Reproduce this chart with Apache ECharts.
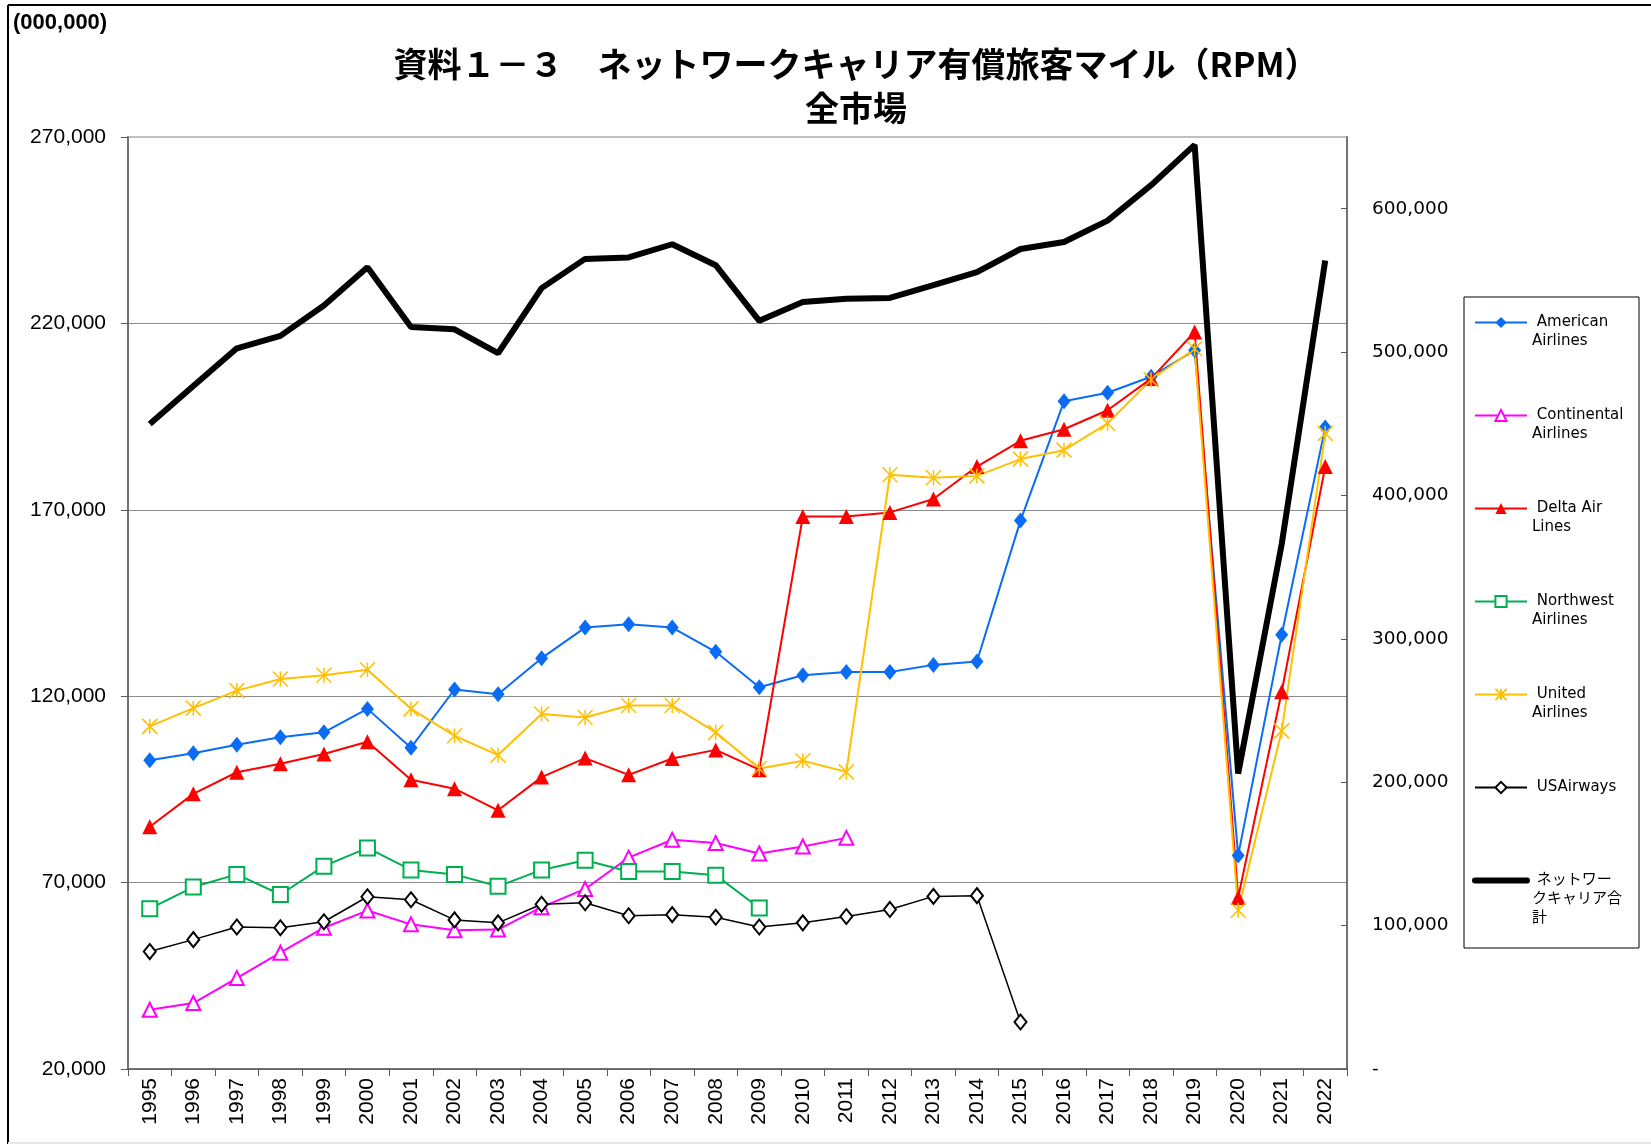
<!doctype html>
<html>
	<head>
		<meta charset="utf-8">
		<title>ネットワークキャリア有償旅客マイル</title>
		<style>
			html, body { margin: 0; padding: 0; background: #fff; }
			#main { width: 1651px; height: 1144px; }
		</style>
	</head>
	<body>
		<div id="main"></div>
		<script src="https://cdn.jsdelivr.net/npm/echarts@6/dist/echarts.min.js"></script>
		<script type="text/javascript">
		// 年度
		var years = ['1995','1996','1997','1998','1999','2000','2001','2002','2003','2004','2005','2006','2007','2008',
			'2009','2010','2011','2012','2013','2014','2015','2016','2017','2018','2019','2020','2021','2022'];

		// 各社 RPM（左軸, 百万）
		var american = [102800,104700,107000,109000,110300,116600,106200,121800,120500,130200,138400,139300,138400,131900,
			122400,125600,126500,126500,128400,129300,167100,199100,201400,205700,212800,77300,136500,192100];
		var continental = [35900,37700,44400,51200,57900,62500,58800,57200,57400,63400,68300,76700,81500,80600,
			77800,79700,82000];
		var delta = [85000,93800,99600,101900,104500,107800,97600,95200,89400,98300,103400,98900,103300,105600,
			100300,168200,168200,169300,172900,181600,188500,191600,196700,205200,217700,66000,121200,181600];
		var northwest = [63000,68800,72200,66800,74400,79300,73400,72200,69000,73400,76000,73000,73000,72000,63200];
		var united = [111900,116800,121500,124600,125600,127100,116600,109400,104200,115200,114300,117500,117500,110300,
			100600,102700,99700,179400,178600,179100,183600,186000,193200,204900,213200,62600,110700,190500];
		var usairways = [51500,54700,58100,57900,59500,66200,65400,60000,59200,64200,64600,61100,61400,60700,
			58100,59200,60900,62800,66300,66500,32600];

		// ネットワークキャリア合計（右軸）
		var total = [449800,476300,502600,511300,532500,559200,517500,515900,499200,544600,565000,566000,575200,560600,
			521800,534900,537200,537800,546700,555800,571900,576800,591700,616400,644500,206000,366000,563900];

		// 軸目盛
		var leftTicks = [20000, 70000, 120000, 170000, 220000, 270000];

		function pad(arr) {
			var out = arr.slice();
			while (out.length < years.length) out.push(null);
			return out;
		}
		function fmt(v) {
			return String(v).replace(/\B(?=(\d{3})+(?!\d))/g, ',');
		}

		// 凡例の文字（1行目をアイコンの高さに揃える）
		var legendText = {
			'American Airlines': [' ', ' ', ' American', 'Airlines', ' '],
			'Continental Airlines': [' ', ' ', ' Continental', 'Airlines', ' '],
			'Delta Air Lines': [' ', ' ', ' Delta Air', 'Lines', ' '],
			'Northwest Airlines': [' ', ' ', ' Northwest', 'Airlines', ' '],
			'United Airlines': [' ', ' ', ' United', 'Airlines', ' '],
			'USAirways': [' ', ' ', ' USAirways', ' ', ' '],
			'ネットワークキャリア合計': [' ', ' ', ' ネットワー', 'クキャリア合', '計']
		};

		function airline(name, data, color, symbol, size, filled) {
			return {
				name: name,
				type: 'line',
				yAxisIndex: 0,
				data: pad(data),
				symbol: symbol,
				symbolSize: size,
				showAllSymbol: true,
				lineStyle: { color: color, width: 2 },
				itemStyle: filled ? { color: color } : { color: color, borderColor: color, borderWidth: 1.5 }
			};
		}

		var series = [
			airline('American Airlines', american, '#0A6CF5', 'diamond', [13, 16], true),
			airline('Continental Airlines', continental, '#FF00FF', 'emptyTriangle', 14, false),
			airline('Delta Air Lines', delta, '#FF0000', 'triangle', 15, true),
			airline('Northwest Airlines', northwest, '#00B050', 'emptyRect', 15, false),
			airline('United Airlines', united, '#FFC000', 'path://M5,0L5,10M0,0L10,10M0,10L10,0', 15, false),
			airline('USAirways', usairways, '#000000', 'emptyDiamond', [12, 15], false),
			{
				name: 'ネットワークキャリア合計',
				type: 'line',
				yAxisIndex: 1,
				data: total,
				symbol: 'none',
				lineStyle: { color: '#000', width: 6 },
				itemStyle: { color: '#000' },
				z: 3
			}
		];
		series[5].lineStyle.width = 1.5;

		var legendData = series.map(function (s) { return { name: s.name }; });
		legendData[6].itemStyle = { opacity: 0 };
		legendData[6].lineStyle = { width: 6, color: '#000', cap: 'round' };

		var axisGray = '#595959';

		var option = {
			backgroundColor: '#ffffff',
			animation: false,
			title: {
				text: '資料１－３　ネットワークキャリア有償旅客マイル（RPM）\n全市場',
				left: 851,
				top: 37,
				textAlign: 'center',
				textStyle: {
					fontFamily: 'Noto Sans CJK JP',
					fontWeight: 'bold',
					fontSize: 34,
					lineHeight: 44,
					color: '#000'
				}
			},
			graphic: [
				{ type: 'line', shape: { x1: 8, y1: 5, x2: 1651, y2: 5 }, style: { stroke: '#000', lineWidth: 2 } },
				{ type: 'line', shape: { x1: 8, y1: 5, x2: 8, y2: 1144 }, style: { stroke: '#000', lineWidth: 2 } },
				{ type: 'line', shape: { x1: 8, y1: 1143, x2: 1651, y2: 1143 }, style: { stroke: '#e6e6e6', lineWidth: 2 } },
				{
					type: 'text', left: 13, top: 12,
					style: { text: '(000,000)', font: 'bold 22px "Liberation Sans"', fill: '#000' }
				},
				{
					type: 'rect', shape: { x: 1464, y: 297, width: 175, height: 651 },
					style: { fill: 'none', stroke: '#000', lineWidth: 1 }
				}
			],
			legend: {
				orient: 'vertical',
				left: 1472,
				top: 275,
				padding: 0,
				itemGap: -2,
				itemWidth: 52,
				itemHeight: 14,
				textStyle: {
					fontFamily: '"DejaVu Sans", "Noto Sans CJK JP"',
					fontSize: 15,
					lineHeight: 19,
					color: '#000'
				},
				formatter: function (name) { return legendText[name].join('\n'); },
				data: legendData
			},
			grid: {
				left: 128,
				right: 304,
				top: 137,
				bottom: 75,
				show: true,
				borderColor: '#c0c0c0',
				borderWidth: 2
			},
			xAxis: {
				type: 'category',
				data: years,
				boundaryGap: true,
				axisLine: { lineStyle: { color: axisGray, width: 1.5 } },
				axisTick: { show: true, length: 7, lineStyle: { color: axisGray } },
				axisLabel: {
					rotate: 90,
					interval: 0,
					margin: 9,
					color: '#000',
					fontFamily: 'Liberation Sans',
					fontSize: 21
				}
			},
			yAxis: [
				{
					type: 'value',
					min: 20000,
					max: 270000,
					axisLine: { show: true, lineStyle: { color: axisGray, width: 1.5 } },
					axisTick: { show: true, length: 7, customValues: leftTicks, lineStyle: { color: axisGray } },
					axisLabel: {
						customValues: leftTicks,
						margin: 22,
						color: '#000',
						fontFamily: 'Liberation Sans',
						fontSize: 21,
						formatter: function (v) { return fmt(v); }
					},
					splitLine: {
						show: true,
						lineStyle: { color: ['#8c8c8c', '#8c8c8c', '#8c8c8c', '#8c8c8c', '#8c8c8c', '#c0c0c0'], width: 1 }
					}
				},
				{
					type: 'value',
					position: 'right',
					min: 0,
					max: 650000,
					interval: 100000,
					axisLine: { show: true, lineStyle: { color: axisGray, width: 1.5 } },
					axisTick: { show: true, inside: true, length: 6, lineStyle: { color: axisGray } },
					axisLabel: {
						showMaxLabel: false,
						margin: 25,
						color: '#000',
						fontFamily: 'DejaVu Sans',
						fontSize: 18.5,
						formatter: function (v) { return v === 0 ? '-' : fmt(v); }
					},
					splitLine: { show: false }
				}
			],
			series: series
		};

		var myChart = echarts.init(document.getElementById('main'));
		myChart.setOption(option);
		</script>
	</body>
</html>
